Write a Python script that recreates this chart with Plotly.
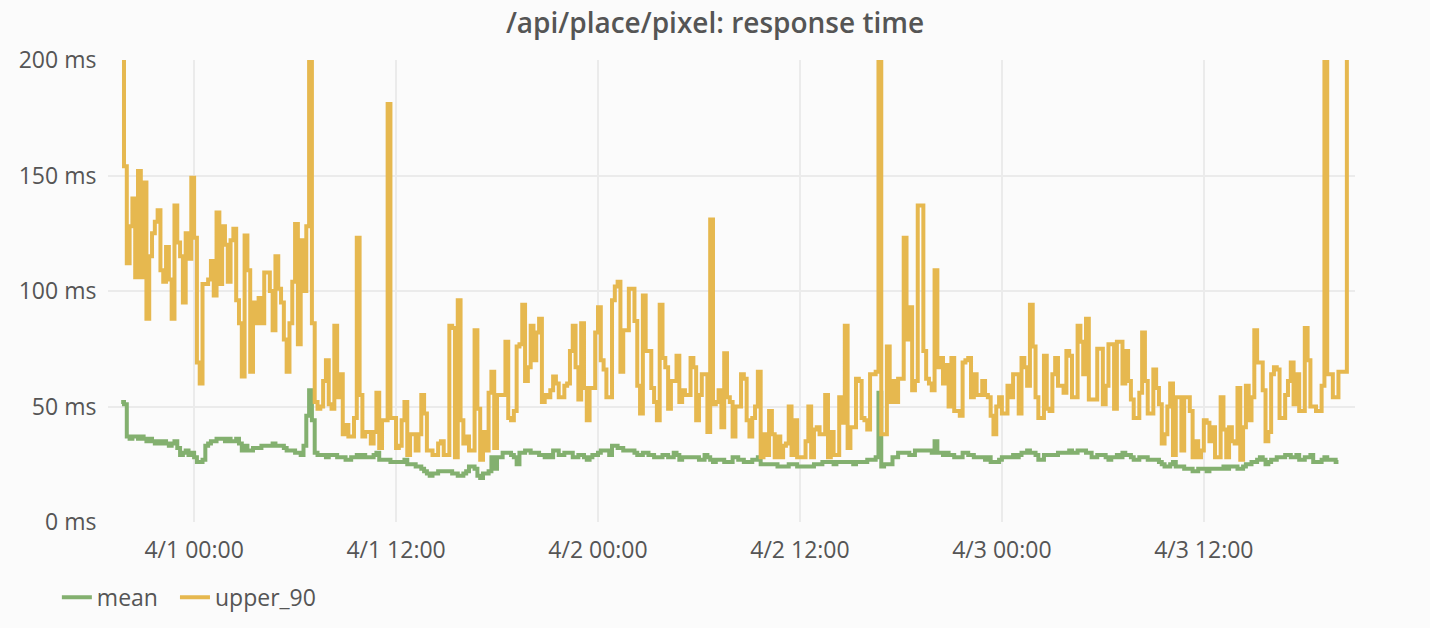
import pandas as pd
import plotly.graph_objects as go

# 10-minute samples starting 2017-03-31 19:40
start_time = "2017-03-31 19:40"

upper_90 = [
    230, 154, 112, 128, 140, 106, 152, 106, 147, 88,
    115, 125, 130, 135, 109, 104, 119, 105, 88, 137,
    121, 115, 95, 125, 114, 149, 123, 69, 60, 103,
    103, 105, 113, 98, 134, 103, 128, 120, 104, 122,
    127, 96, 86, 63, 124, 109, 65, 95, 86, 97,
    86, 108, 108, 100, 83, 115, 101, 95, 79, 65,
    86, 104, 129, 77, 122, 100, 128, 230, 86, 52,
    49, 50, 61, 70, 51, 49, 85, 54, 64, 38,
    42, 37, 37, 45, 123, 55, 37, 39, 39, 34,
    39, 56, 32, 44, 44, 181, 45, 45, 32, 33,
    44, 52, 29, 38, 38, 31, 38, 55, 47, 31,
    31, 29, 29, 34, 35, 29, 29, 85, 84, 28,
    96, 44, 34, 37, 31, 31, 83, 49, 27, 39,
    31, 56, 65, 32, 55, 55, 55, 78, 45, 44,
    48, 76, 77, 94, 61, 67, 85, 70, 82, 88,
    52, 55, 54, 57, 63, 60, 54, 54, 59, 60,
    74, 85, 67, 53, 86, 58, 44, 58, 58, 82,
    93, 70, 66, 54, 54, 96, 102, 104, 65, 83,
    83, 101, 101, 87, 59, 47, 98, 74, 74, 58,
    52, 44, 94, 71, 67, 49, 61, 61, 72, 52,
    57, 55, 55, 71, 67, 44, 55, 64, 64, 39,
    131, 51, 52, 57, 41, 73, 54, 52, 37, 50,
    50, 64, 62, 44, 37, 45, 50, 65, 28, 38,
    29, 48, 38, 28, 37, 28, 33, 34, 50, 29,
    44, 28, 28, 28, 35, 50, 28, 40, 41, 38,
    38, 55, 28, 39, 29, 29, 54, 43, 85, 32,
    41, 41, 62, 61, 45, 44, 40, 64, 64, 65,
    230, 38, 38, 76, 52, 61, 52, 62, 62, 123,
    79, 93, 57, 61, 137, 137, 74, 62, 60, 57,
    109, 67, 71, 60, 68, 50, 71, 48, 48, 46,
    69, 70, 71, 54, 64, 55, 55, 61, 55, 54,
    46, 38, 50, 54, 47, 47, 59, 54, 64, 64,
    47, 71, 67, 59, 94, 76, 54, 45, 45, 72,
    49, 48, 64, 71, 59, 59, 56, 74, 72, 54,
    54, 85, 78, 64, 88, 53, 53, 53, 75, 75,
    51, 59, 77, 77, 49, 78, 78, 60, 74, 61,
    53, 45, 45, 56, 82, 61, 47, 47, 66, 58,
    51, 34, 38, 50, 60, 29, 54, 54, 31, 54,
    54, 48, 28, 35, 28, 31, 44, 43, 35, 41,
    28, 28, 54, 40, 28, 41, 35, 34, 58, 27,
    41, 59, 44, 54, 83, 69, 69, 57, 35, 39,
    64, 67, 66, 45, 45, 55, 61, 69, 51, 64,
    48, 48, 84, 70, 50, 50, 48, 48, 59, 230,
    64, 64, 54, 54, 65, 65, 65, 230,
]

mean = [
    52, 51, 37, 36, 37, 37, 36, 37, 36, 35,
    36, 35, 34, 35, 34, 35, 34, 33, 34, 35,
    32, 29, 30, 31, 29, 30, 28, 26, 26, 27,
    33, 34, 35, 35, 36, 36, 36, 35, 36, 35,
    35, 36, 34, 31, 33, 31, 31, 32, 32, 32,
    33, 33, 33, 33, 34, 33, 33, 33, 32, 31,
    31, 31, 30, 30, 29, 33, 46, 57, 44, 30,
    29, 29, 29, 28, 29, 29, 29, 28, 28, 28,
    27, 27, 28, 28, 29, 28, 29, 28, 28, 28,
    29, 30, 27, 27, 27, 27, 26, 26, 26, 26,
    26, 27, 25, 25, 25, 24, 24, 23, 22, 21,
    20, 21, 21, 22, 22, 22, 22, 22, 21, 21,
    20, 20, 21, 22, 24, 24, 23, 20, 19, 21,
    21, 22, 28, 23, 28, 28, 30, 30, 30, 29,
    28, 25, 30, 30, 31, 31, 30, 30, 30, 29,
    29, 28, 29, 28, 31, 31, 29, 29, 30, 30,
    30, 28, 28, 29, 29, 28, 27, 28, 29, 29,
    30, 31, 31, 31, 29, 33, 33, 32, 32, 31,
    31, 31, 31, 30, 29, 29, 30, 30, 29, 29,
    28, 28, 28, 29, 29, 28, 28, 30, 29, 27,
    28, 28, 28, 28, 28, 28, 27, 27, 29, 28,
    27, 26, 27, 27, 27, 26, 26, 26, 28, 28,
    27, 27, 26, 26, 26, 27, 27, 28, 25, 25,
    25, 25, 25, 25, 24, 24, 24, 24, 25, 25,
    25, 24, 24, 24, 24, 24, 24, 25, 25, 25,
    26, 26, 26, 26, 25, 26, 26, 26, 26, 26,
    26, 25, 26, 26, 26, 26, 27, 27, 27, 28,
    56, 24, 25, 25, 25, 28, 28, 30, 30, 30,
    30, 29, 29, 31, 31, 31, 31, 31, 31, 30,
    35, 30, 30, 29, 30, 29, 29, 28, 28, 28,
    30, 30, 29, 29, 28, 28, 28, 28, 27, 28,
    26, 26, 26, 27, 28, 28, 28, 28, 29, 28,
    29, 30, 30, 31, 30, 30, 29, 27, 27, 29,
    29, 29, 29, 29, 30, 30, 30, 30, 31, 30,
    30, 31, 31, 31, 30, 30, 28, 28, 29, 29,
    29, 28, 27, 28, 28, 29, 28, 30, 29, 29,
    28, 27, 27, 28, 28, 28, 27, 27, 27, 27,
    26, 25, 24, 24, 25, 26, 24, 24, 24, 23,
    23, 23, 22, 22, 23, 23, 23, 22, 23, 23,
    23, 23, 23, 24, 23, 24, 24, 24, 23, 23,
    24, 25, 25, 26, 26, 27, 28, 27, 25, 26,
    27, 27, 28, 28, 28, 29, 29, 28, 28, 29,
    27, 27, 28, 28, 29, 26, 26, 26, 27, 28,
    27, 27, 27, 26, 26,
]

y_ticks = [0, 50, 100, 150, 200]
y_labels = ["0 ms", "50 ms", "100 ms", "150 ms", "200 ms"]

t_upper = pd.date_range(start_time, periods=len(upper_90), freq="10min")
t_mean = pd.date_range(start_time, periods=len(mean), freq="10min")

FONT = "Open Sans, Noto Sans, sans-serif"
TXT = "#555555"
GREEN = "#83B06F"
YELLOW = "#E6B84F"

fig = go.Figure()
fig.add_trace(go.Scatter(
    x=t_mean, y=mean, mode="lines", name="mean", legend="legend",
    line=dict(shape="hv", color=GREEN, width=4),
))
fig.add_trace(go.Scatter(
    x=t_upper, y=upper_90, mode="lines", name="upper_90", legend="legend2",
    line=dict(shape="hv", color=YELLOW, width=4),
))

legend_common = dict(
    orientation="h", xanchor="left", y=-0.1163, yanchor="top",
    font=dict(family=FONT, size=23, color=TXT),
    bgcolor="rgba(0,0,0,0)",
)

fig.update_layout(
    width=1430, height=628,
    margin=dict(l=108, r=75, t=60, b=106, autoexpand=False),
    paper_bgcolor="#fbfbfb", plot_bgcolor="#fbfbfb",
    font=dict(family=FONT, color=TXT, size=23),
    title=dict(
        text="/api/place/pixel: response time",
        x=0.5, xref="container", xanchor="center",
        y=1 - 23 / 628, yref="container", yanchor="middle",
        font=dict(family=FONT, size=28, color="#555555", weight=600),
    ),
    showlegend=True,
    legend=dict(x=-0.041, **legend_common),
    legend2=dict(x=0.0537, **legend_common),
    xaxis=dict(
        range=["2017-03-31 18:53", "2017-04-03 20:59"],
        tick0="2017-04-01 00:00", dtick=43200000,
        tickformat="%-m/%-d %H:%M",
        showgrid=True, gridcolor="#ebebeb", gridwidth=1.5,
        zeroline=False, showline=False,
        ticks="outside", ticklen=7, tickcolor="rgba(0,0,0,0)",
        tickfont=dict(family=FONT, size=23, color=TXT),
    ),
    yaxis=dict(
        range=[0, 200],
        tickvals=y_ticks, ticktext=y_labels,
        showgrid=True, gridcolor="#ebebeb", gridwidth=1.5,
        zeroline=False, showline=False,
        ticks="outside", ticklen=6, tickcolor="rgba(0,0,0,0)",
        tickfont=dict(family=FONT, size=23, color=TXT),
    ),
)

fig.write_html("out.html")
